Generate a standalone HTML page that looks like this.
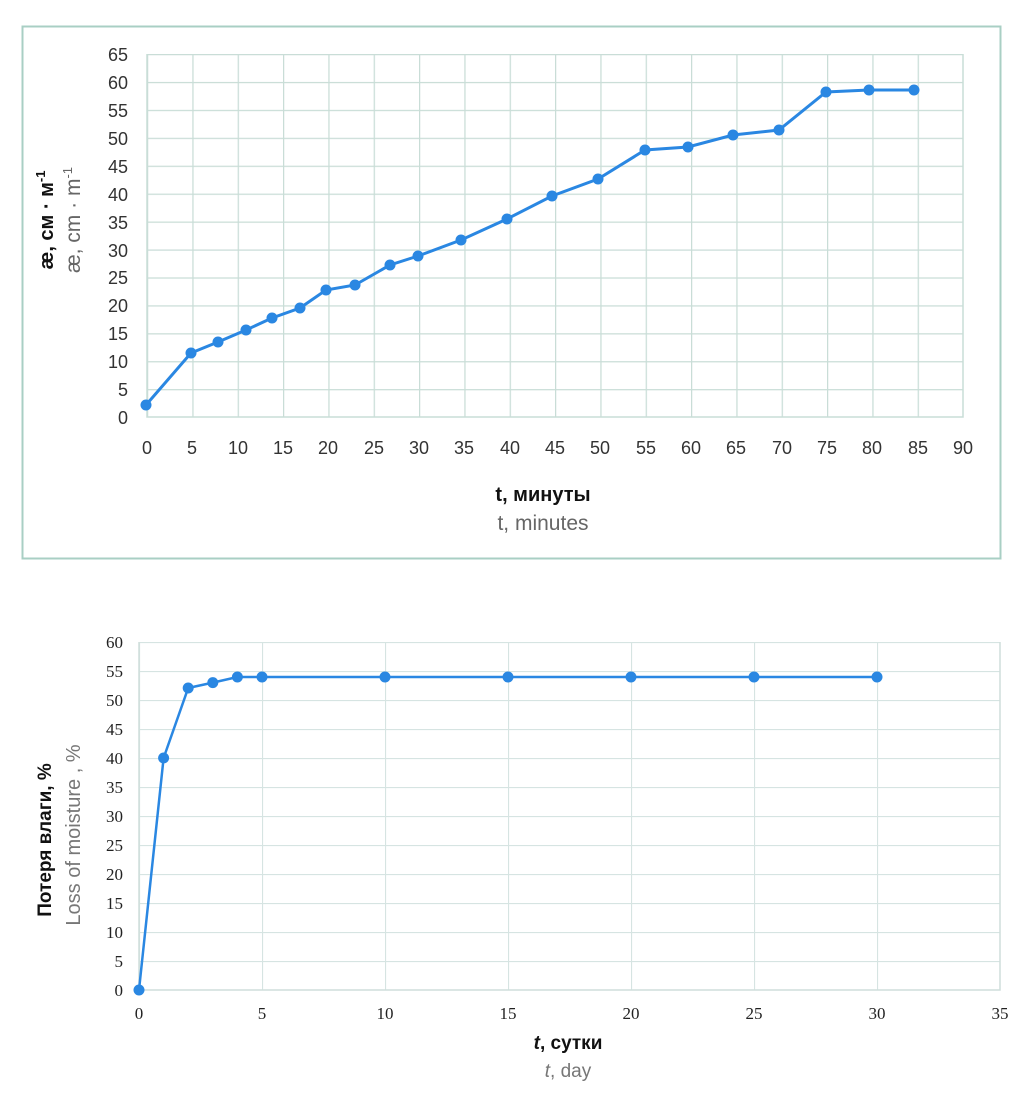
<!DOCTYPE html>
<html><head><meta charset="utf-8"><style>
body{margin:0;background:#fff}
svg{display:block}
</style></head><body>
<svg width="1028" height="1112" xmlns="http://www.w3.org/2000/svg">
<defs>
<pattern id="g1" patternUnits="userSpaceOnUse" x="147" y="54" width="45.333" height="27.923">
<path d="M0.5 0V27.923M0 0.5H45.333" stroke="#c9ddd7" stroke-width="1.5" fill="none"/>
</pattern>
<pattern id="g2" patternUnits="userSpaceOnUse" x="139" y="642" width="123" height="29">
<path d="M0.5 0V29M0 0.5H123" stroke="#d6e4e2" stroke-width="1.2" fill="none"/>
</pattern>
</defs>
<rect x="22.5" y="26.5" width="978" height="532" fill="none" stroke="#a9cfc4" stroke-width="2"/>
<rect x="147" y="54" width="816" height="363" fill="url(#g1)"/>
<path d="M147 54V417H963V54" fill="none" stroke="#c9ddd7" stroke-width="1.5"/>
<g font-family="Liberation Sans, sans-serif" font-size="18" fill="#333" text-anchor="end">
<text x="128" y="61">65</text><text x="128" y="89">60</text><text x="128" y="117">55</text><text x="128" y="145">50</text><text x="128" y="173">45</text><text x="128" y="201">40</text><text x="128" y="229">35</text><text x="128" y="257">30</text><text x="128" y="284">25</text><text x="128" y="312">20</text><text x="128" y="340">15</text><text x="128" y="368">10</text><text x="128" y="396">5</text><text x="128" y="424">0</text>
</g>
<g font-family="Liberation Sans, sans-serif" font-size="18" fill="#333" text-anchor="middle">
<text x="147" y="454">0</text><text x="192" y="454">5</text><text x="238" y="454">10</text><text x="283" y="454">15</text><text x="328" y="454">20</text><text x="374" y="454">25</text><text x="419" y="454">30</text><text x="464" y="454">35</text><text x="510" y="454">40</text><text x="555" y="454">45</text><text x="600" y="454">50</text><text x="646" y="454">55</text><text x="691" y="454">60</text><text x="736" y="454">65</text><text x="782" y="454">70</text><text x="827" y="454">75</text><text x="872" y="454">80</text><text x="918" y="454">85</text><text x="963" y="454">90</text>
</g>
<text x="543" y="501" font-family="Liberation Sans, sans-serif" font-size="20" font-weight="bold" text-anchor="middle" fill="#111">t, минуты</text>
<text x="543" y="530" font-family="Liberation Sans, sans-serif" font-size="21" text-anchor="middle" fill="#666">t, minutes</text>
<text transform="translate(53,220) rotate(-90)" font-family="Liberation Sans, sans-serif" font-size="20" font-weight="bold" text-anchor="middle" fill="#111">æ, см · м<tspan dy="-8" font-size="13">-1</tspan></text>
<text transform="translate(80,220) rotate(-90)" font-family="Liberation Sans, sans-serif" font-size="21" text-anchor="middle" fill="#666">æ, cm · m<tspan dy="-8" font-size="13">-1</tspan></text>
<g fill="#2a87e2">
<polyline fill="none" stroke="#2a87e2" stroke-width="3" points="146,405 191,353 218,342 246,330 272,318 300,308 326,290 355,285 390,265 418,256 461,240 507,219 552,196 598,179 645,150 688,147 733,135 779,130 826,92 869,90 914,90"/>
<circle cx="146" cy="405" r="5.5"/><circle cx="191" cy="353" r="5.5"/><circle cx="218" cy="342" r="5.5"/><circle cx="246" cy="330" r="5.5"/><circle cx="272" cy="318" r="5.5"/><circle cx="300" cy="308" r="5.5"/><circle cx="326" cy="290" r="5.5"/><circle cx="355" cy="285" r="5.5"/><circle cx="390" cy="265" r="5.5"/><circle cx="418" cy="256" r="5.5"/><circle cx="461" cy="240" r="5.5"/><circle cx="507" cy="219" r="5.5"/><circle cx="552" cy="196" r="5.5"/><circle cx="598" cy="179" r="5.5"/><circle cx="645" cy="150" r="5.5"/><circle cx="688" cy="147" r="5.5"/><circle cx="733" cy="135" r="5.5"/><circle cx="779" cy="130" r="5.5"/><circle cx="826" cy="92" r="5.5"/><circle cx="869" cy="90" r="5.5"/><circle cx="914" cy="90" r="5.5"/>
</g>

<rect x="139" y="642" width="861" height="348" fill="url(#g2)"/>
<path d="M139 642V990H1000V642" fill="none" stroke="#cfdedb" stroke-width="1.5"/>
<g font-family="Liberation Serif, serif" font-size="17" fill="#222" text-anchor="end">
<text x="123" y="648">60</text><text x="123" y="677">55</text><text x="123" y="706">50</text><text x="123" y="735">45</text><text x="123" y="764">40</text><text x="123" y="793">35</text><text x="123" y="822">30</text><text x="123" y="851">25</text><text x="123" y="880">20</text><text x="123" y="909">15</text><text x="123" y="938">10</text><text x="123" y="967">5</text><text x="123" y="996">0</text>
</g>
<g font-family="Liberation Serif, serif" font-size="17" fill="#222" text-anchor="middle">
<text x="139" y="1019">0</text><text x="262" y="1019">5</text><text x="385" y="1019">10</text><text x="508" y="1019">15</text><text x="631" y="1019">20</text><text x="754" y="1019">25</text><text x="877" y="1019">30</text><text x="1000" y="1019">35</text>
</g>
<text x="568" y="1049" font-family="Liberation Sans, sans-serif" font-size="19" font-weight="bold" text-anchor="middle" fill="#111"><tspan font-style="italic">t</tspan>, сутки</text>
<text x="568" y="1077" font-family="Liberation Sans, sans-serif" font-size="19" text-anchor="middle" fill="#777"><tspan font-style="italic">t</tspan>, day</text>
<text transform="translate(51,840) rotate(-90)" font-family="Liberation Sans, sans-serif" font-size="19" font-weight="bold" text-anchor="middle" fill="#111">Потеря влаги, %</text>
<text transform="translate(80,835) rotate(-90)" font-family="Liberation Sans, sans-serif" font-size="20" text-anchor="middle" fill="#777">Loss of moisture , %</text>
<g fill="#2a87e2">
<polyline fill="none" stroke="#2a87e2" stroke-width="2.5" points="139,990 163.6,758 188.2,688 212.8,682.6 237.4,677 262,677 385,677 508,677 631,677 754,677 877,677"/>
<circle cx="139" cy="990" r="5.5"/><circle cx="163.6" cy="758" r="5.5"/><circle cx="188.2" cy="688" r="5.5"/><circle cx="212.8" cy="682.6" r="5.5"/><circle cx="237.4" cy="677" r="5.5"/><circle cx="262" cy="677" r="5.5"/><circle cx="385" cy="677" r="5.5"/><circle cx="508" cy="677" r="5.5"/><circle cx="631" cy="677" r="5.5"/><circle cx="754" cy="677" r="5.5"/><circle cx="877" cy="677" r="5.5"/>
</g>
</svg>
</body></html>
